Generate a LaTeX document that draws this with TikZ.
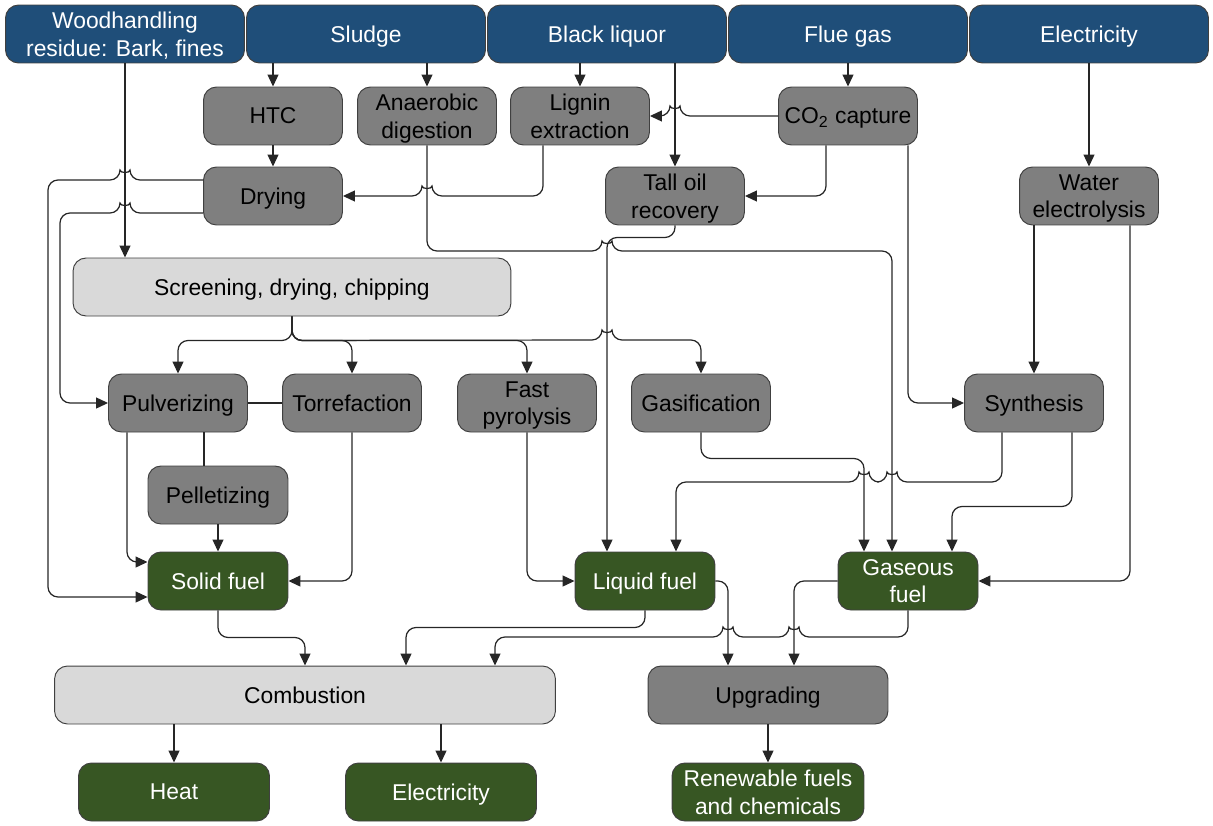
\documentclass[tikz,border=0pt]{standalone}
\usepackage{fontspec}
\setmainfont{Liberation Sans}
\usetikzlibrary{arrows.meta,calc}

\definecolor{inblue}{HTML}{1F4E79}
\definecolor{stepgray}{HTML}{7F7F7F}
\definecolor{prepgray}{HTML}{D9D9D9}
\definecolor{outgreen}{HTML}{375623}
\definecolor{edgecol}{HTML}{404040}
\definecolor{linecol}{HTML}{262626}

\begin{document}
\begin{tikzpicture}[
    x=0.02cm, y=-0.02cm,
    box/.style={draw=edgecol, line width=0.55pt, rounded corners=0.26cm,
      align=center, inner sep=0pt, minimum height=1.16cm, text depth=0pt,
      font=\fontsize{13}{15.7}\selectfont},
    input/.style={box, fill=inblue, text=white, minimum width=4.78cm},
    unit/.style={box, fill=stepgray, minimum width=2.78cm},
    wide/.style={box, fill=prepgray},
    fuel/.style={box, fill=outgreen, text=white, minimum width=2.8cm},
    line/.style={draw=linecol, line width=0.7pt, rounded corners=0.2cm},
    arr/.style={line, -{Triangle[length=0.24cm,width=0.22cm]}},
    hop/.style={out=90, in=90, looseness=1.7}]

      \useasboundingbox (0,0) rectangle (1213,825);

      % inputs
      \node[input] (woodres) at (125,34) {Woodhandling\\residue: Bark, fines};
      \node[input] (sludge) at (366,34) {Sludge};
      \node[input] (liquor) at (607,34) {Black liquor};
      \node[input] (flue) at (848,34) {Flue gas};
      \node[input] (elec) at (1089,34) {Electricity};

      % pretreatment
      \node[unit] (htc) at (273,116) {HTC};
      \node[unit] (anaer) at (427,116) {Anaerobic\\digestion};
      \node[unit] (lignin) at (580,116) {Lignin\\extraction};
      \node[unit] (co2) at (848,116) {CO\textsubscript{2} capture};

      \node[unit] (drying) at (273,196) {Drying};
      \node[unit] (tall) at (675,196) {Tall oil\\recovery};
      \node[unit] (water) at (1089,196) {Water\\electrolysis};

      \node[wide, minimum width=8.76cm] (screen) at (292,287) {Screening, drying, chipping};

      % conversion
      \node[unit] (pulv) at (178,403) {Pulverizing};
      \node[unit] (torr) at (352,403) {Torrefaction};
      \node[unit] (fastpyr) at (527,403) {Fast\\pyrolysis};
      \node[unit] (gasif) at (701,403) {Gasification};
      \node[unit] (synth) at (1034,403) {Synthesis};
      \node[unit, minimum width=2.8cm] (pellet) at (218,495) {Pelletizing};

      % fuels
      \node[fuel] (solid) at (218,581) {Solid fuel};
      \node[fuel] (liquid) at (645,581) {Liquid fuel};
      \node[fuel] (gaseous) at (908,581) {Gaseous\\fuel};

      \node[wide, minimum width=10.02cm] (comb) at (305,695) {Combustion};
      \node[unit, minimum width=4.8cm] (upgr) at (768,695) {Upgrading};

      % products
      \node[fuel, minimum width=3.82cm] (heat) at (174,792) {Heat};
      \node[fuel, minimum width=3.82cm] (elout) at (441,792) {Electricity};
      \node[fuel, minimum width=3.84cm] (renew) at (768,792) {Renewable fuels\\and chemicals};

      % from the inputs
      \draw[arr] (woodres.south) -- (screen.north -| woodres.south);
      \foreach \p in {htc, anaer}
        \draw[arr] (\p.north |- sludge.south) -- (\p.north);
      \draw[arr] (lignin.north |- liquor.south) -- (lignin.north);
      \draw[arr] (tall.north |- liquor.south) -- (tall.north);
      \draw[arr] (flue) -- (co2);
      \draw[arr] (elec) -- (water);

      % sludge and black liquor lines
      \draw[arr] (htc) -- (drying);
      \draw[arr] (co2.west) -- (680,116) to[hop] (670,116) -- (lignin.east);
      \draw[arr] ($(co2.south)+(-22,0)$) |- (tall.east);
      \draw[arr] ($(lignin.south)+(-37,0)$) |- (432,196) to[hop] (422,196) -- (drying.east);
      \draw[arr] (anaer.south) |- (602,251) to[hop] (612,251) -| ($(gaseous.north)+(-16,0)$);
      \draw[arr] (tall.south) -- ++(0,12) -| ($(liquid.north)+(-38,0)$);
      \draw[arr] ($(drying.west)+(0,-16)$) -- (130,180) to[hop] (120,180) -- (48,180)
        |- ($(solid.west)+(0,16)$);
      \draw[arr] ($(drying.west)+(0,17)$) -- (130,213) to[hop] (120,213) -- (60,213)
        |- (pulv.west);

      % woody residue
      \foreach \p in {pulv, torr, fastpyr}
        \draw[arr] (screen.south) -- ++(0,24) -| (\p.north);
      \draw[arr] (screen.south) -- ++(0,24) -- (602,340) to[hop] (612,340) -| (gasif.north);
      \draw[line] (pulv) -- (torr);
      \draw[line] ($(pulv.south)+(26,0)$) -- ($(pellet.north)+(-14,0)$);
      \draw[arr] (pellet) -- (solid);
      \draw[arr] ($(pulv.south)+(-51,0)$) |- ($(solid.west)+(0,-19)$);
      \draw[arr] (torr.south) |- (solid.east);
      \draw[arr] (fastpyr.south) |- (liquid.west);

      % gas lines
      \draw[arr] ($(co2.south)+(60,0)$) |- (synth.west);
      \draw[arr] ($(water.south)+(-55,0)$) -- (synth.north);
      \draw[arr] ($(water.south)+(41,0)$) |- (gaseous.east);
      \draw[arr] ($(synth.south)+(-32,0)$) |- (897,482) to[hop] (887,482) -- (869,482)
        to[hop] (859,482) -| ($(liquid.north)+(31,0)$);
      \draw[arr] (gasif.south) -- ++(0,26) -| ($(gaseous.north)+(-44,0)$);
      \draw[arr] ($(synth.south)+(38,0)$) -- ++(0,74) -| ($(gaseous.north)+(44,0)$);

      % use of the fuels
      \draw[arr] (solid.south) -- ++(0,27) -| (comb.north);
      \draw[arr] (liquid.south) -- ++(0,17) -| ($(comb.north)+(101,0)$);
      \draw[arr] (gaseous.south) |- (799,637) to[hop] (789,637) -- (733,637)
        to[hop] (723,637) -| ($(comb.north)+(190,0)$);
      \draw[arr] (liquid.east) -| ($(upgr.north)+(-40,0)$);
      \draw[arr] (gaseous.west) -| ($(upgr.north)+(26,0)$);

      \foreach \p in {heat, elout}
        \draw[arr] (\p.north |- comb.south) -- (\p.north);
      \draw[arr] (upgr) -- (renew);

    \end{tikzpicture}
\end{document}
